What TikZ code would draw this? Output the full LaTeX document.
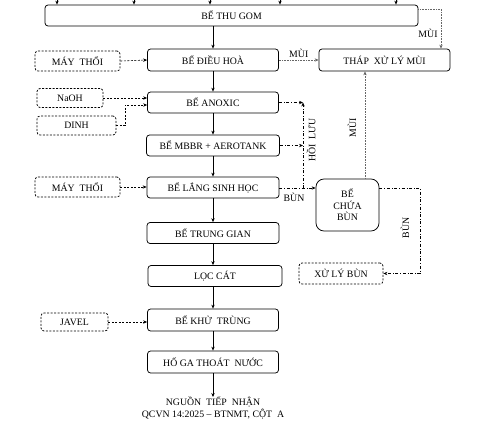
\documentclass[tikz,border=0pt]{standalone}
\usepackage{fontspec}
\setmainfont{Liberation Serif}
\usetikzlibrary{arrows.meta}
\begin{document}
\begin{tikzpicture}[x=1pt,y=-1pt,
  font=\fontsize{9.8}{11.5}\selectfont,
  box/.style={draw, line width=0.75pt, rounded corners=3pt, inner sep=0pt, align=center},
  dbox/.style={box, dash pattern=on 2pt off 1.5pt},
  tip/.style={-{Stealth[length=4pt,width=3.4pt]}},
  flow/.style={tip, line width=0.75pt},
  feed/.style={tip, dash pattern=on 2pt off 1.5pt, line width=0.6pt},
  odor/.style={tip, densely dotted, line width=0.6pt, draw=black!60},
  sludge/.style={tip, dash dot, line width=0.6pt},
  lbl/.style={inner sep=1pt}]
\useasboundingbox (0,0) rectangle (477,429);
% main chain
\node[box, minimum width=373pt, minimum height=21pt] (thugom) at (231.5,15.5) {BỂ THU GOM};
\node[dbox, minimum width=85pt, minimum height=20pt] (maythoi1) at (77.5,61) {MÁY \ THỔI};
\node[box, minimum width=131pt, minimum height=22pt] (dieuhoa) at (213,60) {BỂ ĐIỀU HOÀ};
\node[box, minimum width=131pt, minimum height=22pt] (thap) at (384.5,60) {THÁP \ XỬ LÝ MÙI};
\node[dbox, minimum width=66pt, minimum height=19pt] (naoh) at (70,98) {NaOH};
\node[dbox, minimum width=79pt, minimum height=19pt] (dinh) at (76.5,125.5) {DINH};
\node[box, minimum width=131pt, minimum height=21pt] (anoxic) at (213,102.5) {BỂ ANOXIC};
\node[box, minimum width=133pt, minimum height=21pt] (mbbr) at (213,145.5) {BỂ MBBR + AEROTANK};
\node[dbox, minimum width=85pt, minimum height=20pt] (maythoi2) at (77.5,187) {MÁY \ THỔI};
\node[box, minimum width=132pt, minimum height=21pt] (lang) at (213,187.5) {BỂ LẮNG SINH HỌC};
\node[box, minimum width=132pt, minimum height=21pt] (trunggian) at (213,233) {BỂ TRUNG GIAN};
\node[box, minimum width=134pt, minimum height=21pt] (loccat) at (215,276) {LỌC CÁT};
\node[dbox, minimum width=67pt, minimum height=18pt] (javel) at (74.5,322) {JAVEL};
\node[box, minimum width=131pt, minimum height=22pt] (khutrung) at (213,320) {BỂ KHỬ \ TRÙNG};
\node[box, minimum width=131pt, minimum height=22pt] (hoga) at (213,362) {HỐ GA THOÁT \ NƯỚC};
\node[box, rounded corners=8pt, minimum width=63pt, minimum height=52pt] (chuabun) at (347.5,205) {BỂ\\CHỨA\\BÙN};
\node[dbox, minimum width=84pt, minimum height=21pt] (xulybun) at (341,273.5) {XỬ LÝ BÙN};
\node[align=center, inner sep=0pt, anchor=north] (out) at (213,397) {NGUỒN \ TIẾP \ NHẬN\\QCVN 14:2025 -- BTNMT, CỘT \ A};
% inflows to thu gom
\foreach \x/\n in {57/a,134/b,210/c,280/d,396/e}{
  \coordinate (in\n) at (\x,-2);
  \draw[flow] (in\n) -- (in\n |- thugom.north);
}
% main flow arrows
\draw[flow] (thugom.south -| dieuhoa) -- (dieuhoa.north);
\draw[flow] (dieuhoa.south) -- (anoxic.north);
\draw[flow] (anoxic.south) -- (mbbr.north);
\draw[flow] (mbbr.south) -- (lang.north);
\draw[flow] (lang.south) -- (trunggian.north);
\draw[flow] (trunggian.south) -- (trunggian.south |- loccat.north);
\draw[flow] (loccat.south -| khutrung) -- (khutrung.north);
\draw[flow] (khutrung.south) -- (hoga.north);
\draw[flow] (hoga.south) -- (out.north);
% feeds
\draw[feed] (maythoi1.east) -- (dieuhoa.west);
\draw[feed] (naoh.east) -- (naoh.east -| anoxic.west);
\coordinate (dn) at (125,105);
\draw[feed] (dinh.east) -| (dn) -- (dn -| anoxic.west);
\draw[feed] (maythoi2.east) -- (maythoi2.east -| lang.west);
\draw[feed] (javel.east) -- (javel.east -| khutrung.west);
% odour
\draw[odor] (dieuhoa.east) -- (thap.west) node[lbl, midway, above, black, yshift=1pt] {MÙI};
\coordinate (tg) at (441,9);
\draw[odor] (tg -| thugom.east) -- (tg) -- (tg |- thap.north);
\node[lbl] at (428,33) {MÙI};
\draw[odor] (chuabun.north -| 365,0) -- (365,0 |- thap.south);
\node[lbl, rotate=90] at (352,128) {MÙI};
% sludge / recirculation
\coordinate (hl) at (303,188);
\draw[sludge] (lang.east |- hl) -- (hl -| chuabun.west);
\node[lbl] at (294,197) {BÙN};
\draw[sludge] (hl) -- (hl |- anoxic.east);
\draw[sludge] (anoxic.east) -- (anoxic.east -| hl);
\draw[sludge] (mbbr.east) -- (mbbr.east -| hl);
\node[lbl, rotate=90] at (311,140) {HỒI \ LƯU};
\coordinate (br) at (420,188);
\draw[sludge] (chuabun.east |- br) -- (br) -- (br |- xulybun.east) -- (xulybun.east);
\node[lbl, rotate=90] at (405,228) {BÙN};
\end{tikzpicture}
\end{document}
